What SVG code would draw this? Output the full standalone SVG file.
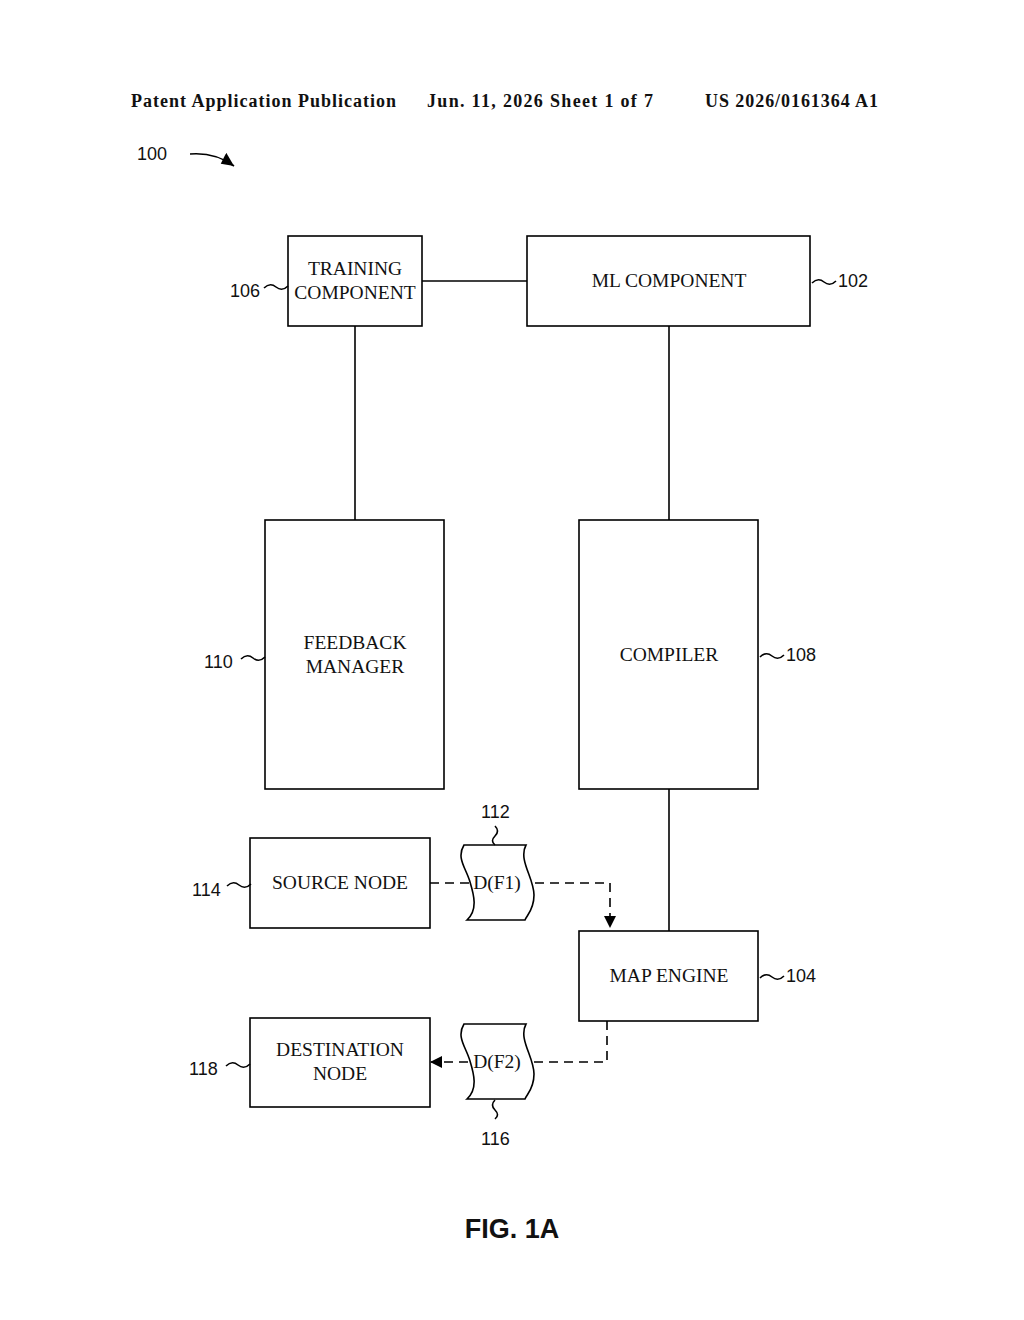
<svg xmlns="http://www.w3.org/2000/svg" width="1024" height="1320" viewBox="0 0 1024 1320">
<defs>
<style>
.b{fill:#fff;stroke:#000;stroke-width:1.6}
.l{fill:none;stroke:#000;stroke-width:1.6}
.d{fill:none;stroke:#000;stroke-width:1.6;stroke-dasharray:9,6}
.t{font-family:"Liberation Serif",serif;font-size:19.5px;text-anchor:middle;fill:#111}
.n{font-family:"Liberation Sans",sans-serif;font-size:18px;fill:#111}
.h{font-family:"Liberation Serif",serif;font-size:18px;font-weight:bold;fill:#111}
</style>
<marker id="a" markerWidth="12" markerHeight="12" refX="11" refY="6" orient="auto" markerUnits="userSpaceOnUse"><path d="M0,0 L12,6 L0,12 Z" fill="#000"/></marker>
<marker id="a2" markerWidth="16" markerHeight="16" refX="14" refY="8" orient="auto" markerUnits="userSpaceOnUse"><path d="M0,2 L14,8 L2,14 Z" fill="#000"/></marker>
</defs>
<rect width="1024" height="1320" fill="#fff"/>
<text class="h" x="131" y="107" textLength="265">Patent Application Publication</text>
<text class="h" x="427" y="107" textLength="226">Jun. 11, 2026  Sheet 1 of 7</text>
<text class="h" x="705" y="107" textLength="173">US 2026/0161364 A1</text>
<text class="n" x="137" y="160">100</text>
<path class="l" d="M190,154 Q215,152 234,166" marker-end="url(#a2)"/>
<g id="connectors">
<line class="l" x1="422" y1="281" x2="527" y2="281"/>
<line class="l" x1="355" y1="326" x2="355" y2="520"/>
<line class="l" x1="669" y1="326" x2="669" y2="520"/>
<line class="l" x1="669" y1="789" x2="669" y2="931"/>
<path class="d" d="M430,883 L610,883 L610,927" marker-end="url(#a)"/>
<path class="d" d="M607,1021 L607,1062 L431,1062" marker-end="url(#a)"/>
</g>
<g id="n106"><rect class="b" x="288" y="236" width="134" height="90"/><text class="t" x="355" y="275">TRAINING</text><text class="t" x="355" y="299">COMPONENT</text><text class="n" x="230" y="297">106</text><path class="l" d="M264,288 q6,-6 12,-1 q6,5 12,-1"/></g>
<g id="n102"><rect class="b" x="527" y="236" width="283" height="90"/><text class="t" x="669" y="287">ML COMPONENT</text><path class="l" d="M812,283 q6,-6 12,-1 q6,5 12,-1"/><text class="n" x="838" y="287">102</text></g>
<g id="n110"><rect class="b" x="265" y="520" width="179" height="269"/><text class="t" x="355" y="649">FEEDBACK</text><text class="t" x="355" y="673">MANAGER</text><text class="n" x="204" y="668">110</text><path class="l" d="M241,659 q6,-6 12,-1 q6,5 12,-1"/></g>
<g id="n108"><rect class="b" x="579" y="520" width="179" height="269"/><text class="t" x="669" y="661">COMPILER</text><path class="l" d="M760,657 q6,-6 12,-1 q6,5 12,-1"/><text class="n" x="786" y="661">108</text></g>
<g id="n114"><rect class="b" x="250" y="838" width="180" height="90"/><text class="t" x="340" y="889">SOURCE NODE</text><text class="n" x="192" y="896">114</text><path class="l" d="M227,886 q6,-6 12,-1 q6,5 12,-1"/></g>
<g id="n112"><path class="b" d="M464,845 L526,845 C518,860 534,878 534,895 C534,910 527,915 525,920 L467,920 C478,910 474,895 470,882 C466,868 456,858 464,845 Z"/><text class="t" x="497" y="889">D(F1)</text><path class="l" d="M495,826 q5,5 0,10 q-5,5 0,9"/><text class="n" x="481" y="818">112</text></g>
<g id="n104"><rect class="b" x="579" y="931" width="179" height="90"/><text class="t" x="669" y="982">MAP ENGINE</text><path class="l" d="M760,978 q6,-6 12,-1 q6,5 12,-1"/><text class="n" x="786" y="982">104</text></g>
<g id="n118"><rect class="b" x="250" y="1018" width="180" height="89"/><text class="t" x="340" y="1056">DESTINATION</text><text class="t" x="340" y="1080">NODE</text><text class="n" x="189" y="1075">118</text><path class="l" d="M226,1066 q6,-6 12,-1 q6,5 12,-1"/></g>
<g id="n116"><path class="b" d="M464,1024 L526,1024 C518,1039 534,1057 534,1074 C534,1089 527,1094 525,1099 L467,1099 C478,1089 474,1074 470,1061 C466,1047 456,1037 464,1024 Z"/><text class="t" x="497" y="1068">D(F2)</text><path class="l" d="M495,1100 q-5,5 0,10 q5,5 0,9"/><text class="n" x="481" y="1145">116</text></g>
<text x="512" y="1238" font-family="Liberation Sans,sans-serif" font-weight="bold" font-size="27" text-anchor="middle" fill="#111">FIG. 1A</text>
</svg>
